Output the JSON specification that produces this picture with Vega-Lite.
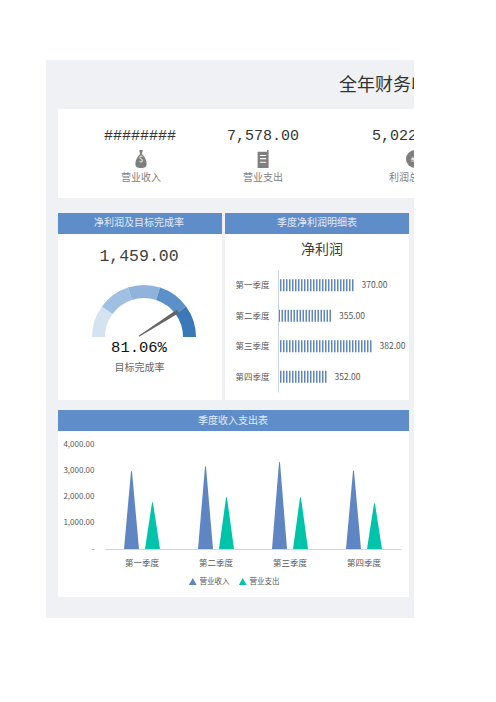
{
"$schema":"https://vega.github.io/schema/vega-lite/v6.json",
"width":496,"height":702,"padding":0,"autosize":{"type":"none"},"background":"#ffffff",
"config":{"view":{"stroke":null},"font":"Noto Sans CJK SC","axis":{"grid":false,"title":null}},
"datasets":{
"kpi":[{"kpi":"营业收入","amount":"########","col":1,"glyph":"$"},{"kpi":"营业支出","amount":"7,578.00","col":2,"glyph":""},{"kpi":"利润总额","amount":"5,022.00","col":3,"glyph":"#"}],
"profit":[{"quarter":"第一季度","profit":370},{"quarter":"第二季度","profit":355},{"quarter":"第三季度","profit":382},{"quarter":"第四季度","profit":352}],
"gauge":[{"seg":"a","share":1},{"seg":"b","share":1},{"seg":"c","share":1},{"seg":"d","share":1},{"seg":"e","share":1}],
"needle":[{"along":0,"up":0,"weight":0},{"along":0.829,"up":0.53,"weight":1}],
"flow":[
{"quarter":"第一季度","series":"营业收入","stage":"base","amount":0},{"quarter":"第一季度","series":"营业收入","stage":"peak","amount":2950},
{"quarter":"第一季度","series":"营业支出","stage":"base","amount":0},{"quarter":"第一季度","series":"营业支出","stage":"peak","amount":1760},
{"quarter":"第二季度","series":"营业收入","stage":"base","amount":0},{"quarter":"第二季度","series":"营业收入","stage":"peak","amount":3135},
{"quarter":"第二季度","series":"营业支出","stage":"base","amount":0},{"quarter":"第二季度","series":"营业支出","stage":"peak","amount":1955},
{"quarter":"第三季度","series":"营业收入","stage":"base","amount":0},{"quarter":"第三季度","series":"营业收入","stage":"peak","amount":3300},
{"quarter":"第三季度","series":"营业支出","stage":"base","amount":0},{"quarter":"第三季度","series":"营业支出","stage":"peak","amount":1955},
{"quarter":"第四季度","series":"营业收入","stage":"base","amount":0},{"quarter":"第四季度","series":"营业收入","stage":"peak","amount":2970},
{"quarter":"第四季度","series":"营业支出","stage":"base","amount":0},{"quarter":"第四季度","series":"营业支出","stage":"peak","amount":1725}
]},
"resolve":{"scale":{"x":"independent","y":"independent","color":"independent","size":"independent","shape":"independent","theta":"independent","xOffset":"independent"},"axis":{"x":"independent","y":"independent"},"legend":{"color":"independent","size":"independent","shape":"independent"}},
"layer":[
{"data":{"values":[{}]},"mark":{"type":"rect","x":46,"x2":414,"y":60,"y2":618,"fill":"#eff1f5"},"encoding":{}},
{"data":{"values":[{}]},"mark":{"type":"rect","x":58,"x2":414,"y":109,"y2":198,"fill":"#ffffff"},"encoding":{}},
{"data":{"values":[{}]},"mark":{"type":"rect","x":58,"x2":222,"y":213,"y2":400,"fill":"#ffffff"},"encoding":{}},
{"data":{"values":[{}]},"mark":{"type":"rect","x":225,"x2":409,"y":213,"y2":400,"fill":"#ffffff"},"encoding":{}},
{"data":{"values":[{}]},"mark":{"type":"rect","x":58,"x2":409,"y":410,"y2":597,"fill":"#ffffff"},"encoding":{}},
{"data":{"values":[{}]},"mark":{"type":"rect","x":58,"x2":222,"y":213,"y2":234,"fill":"#5e8dc9"},"encoding":{}},
{"data":{"values":[{}]},"mark":{"type":"rect","x":225,"x2":409,"y":213,"y2":234,"fill":"#5e8dc9"},"encoding":{}},
{"data":{"values":[{}]},"mark":{"type":"rect","x":58,"x2":409,"y":410,"y2":431,"fill":"#5e8dc9"},"encoding":{}},
{"data":{"values":[{"label":"全年财务收入"}]},"mark":{"type":"text","x":339,"y":86,"align":"left","baseline":"middle","fontSize":18,"fill":"#333333"},"encoding":{"text":{"field":"label"}}},
{"data":{"values":[{"label":"净利润及目标完成率"}]},"mark":{"type":"text","x":139,"y":223,"align":"center","baseline":"middle","fontSize":10,"fill":"#e3ebf7"},"encoding":{"text":{"field":"label"}}},
{"data":{"values":[{"label":"季度净利润明细表"}]},"mark":{"type":"text","x":317,"y":223,"align":"center","baseline":"middle","fontSize":10,"fill":"#e3ebf7"},"encoding":{"text":{"field":"label"}}},
{"data":{"values":[{"label":"季度收入支出表"}]},"mark":{"type":"text","x":233,"y":421,"align":"center","baseline":"middle","fontSize":10,"fill":"#e3ebf7"},"encoding":{"text":{"field":"label"}}},
{"data":{"name":"kpi"},"mark":{"type":"text","y":135,"align":"center","baseline":"middle","fontSize":15,"font":"Liberation Mono","fill":"#333333"},
 "encoding":{"x":{"field":"col","type":"quantitative","axis":null,"scale":{"domain":[1,2,3],"range":[140,263,408]}},"text":{"field":"amount"}}},
{"data":{"name":"kpi"},"mark":{"type":"point","filled":true,"y":159,"fill":"#7f7f7f","size":324,"opacity":1},
 "encoding":{"x":{"field":"col","type":"quantitative","axis":null,"scale":{"domain":[1,2,3],"range":[141,263,415]}},
 "shape":{"field":"kpi","type":"nominal","legend":null,"scale":{"domain":["营业收入","营业支出","利润总额"],"range":["M-0.2,-1 L0.2,-1 L0.1,-0.55 C0.5,-0.2 0.62,0.3 0.62,0.55 C0.62,0.9 0.4,1 0,1 C-0.4,1 -0.62,0.9 -0.62,0.55 C-0.62,0.3 -0.5,-0.2 -0.1,-0.55 Z","M-0.6,-0.8 L0.45,-0.8 L0.45,-1 L0.62,-1 L0.62,1 L-0.6,1 Z M-0.35,-0.45 L-0.35,-0.32 L0.35,-0.32 L0.35,-0.45 Z M-0.35,-0.1 L-0.35,0.03 L0.35,0.03 L0.35,-0.1 Z M-0.35,0.3 L-0.35,0.43 L0.35,0.43 L0.35,0.3 Z","circle"]}}}},
{"data":{"name":"kpi"},"mark":{"type":"text","y":160,"align":"center","baseline":"middle","fontSize":8,"fill":"#ffffff"},
 "encoding":{"x":{"field":"col","type":"quantitative","axis":null,"scale":{"domain":[1,2,3],"range":[141,263,413]}},"text":{"field":"glyph"}}},
{"data":{"name":"kpi"},"mark":{"type":"text","y":178,"align":"center","baseline":"middle","fontSize":10,"fill":"#808080"},
 "encoding":{"x":{"field":"col","type":"quantitative","axis":null,"scale":{"domain":[1,2,3],"range":[141,263,409]}},"text":{"field":"kpi"}}},
{"data":{"values":[{"label":"1,459.00"}]},"mark":{"type":"text","x":139,"y":256,"align":"center","baseline":"middle","fontSize":16.5,"font":"Liberation Mono","fill":"#404040"},"encoding":{"text":{"field":"label"}}},
{"data":{"name":"gauge"},"mark":{"type":"arc","outerRadius":52,"innerRadius":39,"x":144,"y":337},
 "encoding":{"theta":{"field":"share","type":"quantitative","stack":true,"scale":{"range":[-1.5708,1.5708]}},"order":{"field":"seg"},
 "color":{"field":"seg","type":"nominal","legend":null,"scale":{"domain":["a","b","c","d","e"],"range":["#d5e2f1","#a0c0e3","#8fb3da","#5b91c8","#3a78b8"]}}}},
{"data":{"name":"needle"},"mark":{"type":"trail","fill":"#666666"},
 "encoding":{"x":{"field":"along","type":"quantitative","axis":null,"scale":{"domain":[0,1],"range":[139.3,184.3],"zero":false}},
 "y":{"field":"up","type":"quantitative","axis":null,"scale":{"domain":[0,1],"range":[336,291],"zero":false}},
 "size":{"field":"weight","type":"quantitative","legend":null,"scale":{"domain":[0,1],"range":[0,4]}}}},
{"data":{"values":[{"label":"81.06%"}]},"mark":{"type":"text","x":139,"y":347,"align":"center","baseline":"middle","fontSize":15.5,"font":"Liberation Mono","fill":"#111111"},"encoding":{"text":{"field":"label"}}},
{"data":{"values":[{"label":"目标完成率"}]},"mark":{"type":"text","x":139.5,"y":368,"align":"center","baseline":"middle","fontSize":10,"fill":"#666666"},"encoding":{"text":{"field":"label"}}},
{"data":{"values":[{"label":"净利润"}]},"mark":{"type":"text","x":322,"y":250,"align":"center","baseline":"middle","fontSize":14,"fill":"#404040"},"encoding":{"text":{"field":"label"}}},
{"data":{"name":"profit"},"mark":{"type":"rule","strokeWidth":12,"strokeDash":[1.5,1.5],"stroke":"#5f87bd"},
 "encoding":{"x":{"field":"profit","type":"quantitative","axis":null,"scale":{"domain":[320,400],"range":[278.5,398.5],"zero":false}},"x2":{"datum":320},
 "y":{"field":"quarter","type":"nominal","sort":null,"scale":{"domain":["第一季度","第二季度","第三季度","第四季度"],"range":[270,392]},
 "axis":{"orient":"left","offset":-278,"ticks":false,"domainColor":"#c9d3e3","labelColor":"#595959","labelFontSize":8.5,"labelPadding":9,"zindex":1}}}},
{"data":{"name":"profit"},"mark":{"type":"text","align":"left","baseline":"middle","dx":8,"fontSize":8.5,"fill":"#595959"},
 "encoding":{"x":{"field":"profit","type":"quantitative","axis":null,"scale":{"domain":[320,400],"range":[278.5,398.5],"zero":false}},
 "y":{"field":"quarter","type":"nominal","axis":null,"scale":{"domain":["第一季度","第二季度","第三季度","第四季度"],"range":[270,392]}},
 "text":{"field":"profit","type":"quantitative","format":".2f"}}},
{"data":{"name":"flow"},"mark":{"type":"trail"},
 "encoding":{"x":{"field":"quarter","type":"nominal","sort":null,"scale":{"domain":["第一季度","第二季度","第三季度","第四季度"],"range":[105,401],"paddingInner":0,"paddingOuter":0},
 "axis":{"orient":"bottom","offset":-153,"labelAngle":0,"ticks":false,"domainColor":"#cfd6e2","labelColor":"#595959","labelFontSize":8.5,"labelPadding":9,"zindex":1}},
 "xOffset":{"field":"series","type":"nominal","scale":{"type":"point","padding":0,"domain":["营业收入","营业支出"],"range":[26.5,47.5]}},
 "y":{"field":"amount","type":"quantitative","scale":{"domain":[0,4000],"range":[549,444]},
 "axis":{"orient":"left","offset":-105,"values":[0,1000,2000,3000,4000],"ticks":false,"domain":false,"labelColor":"#595959","labelFontSize":8,"labelPadding":11,"labelExpr":"datum.value==0?'-':format(datum.value,',.2f')","zindex":1}},
 "size":{"field":"stage","type":"ordinal","legend":null,"scale":{"type":"ordinal","domain":["base","peak"],"range":[15,0]}},
 "detail":{"field":"quarter"},
 "color":{"field":"series","type":"nominal","scale":{"domain":["营业收入","营业支出"],"range":["#5f86c2","#00c4aa"]},
 "legend":{"title":null,"orient":"none","legendX":189,"legendY":578,"direction":"horizontal","symbolType":"triangle-up","symbolSize":12,"symbolStrokeWidth":2.5,"labelFontSize":7.5,"labelColor":"#595959","columnPadding":6,"labelOffset":3}}}},
{"data":{"values":[{}]},"mark":{"type":"rect","x":100,"x2":405,"y":549.5,"y2":558,"fill":"#ffffff"},"encoding":{}},
{"data":{"values":[{}]},"mark":{"type":"rect","x":414,"x2":496,"y":0,"y2":702,"fill":"#ffffff"},"encoding":{}}
]
}
